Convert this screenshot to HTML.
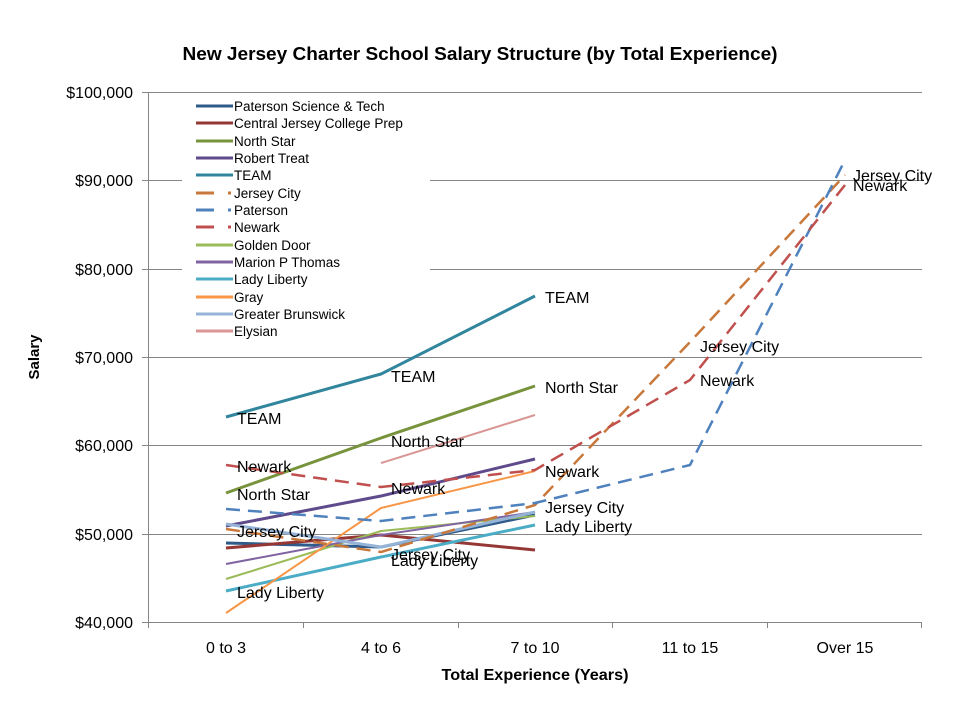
<!DOCTYPE html>
<html><head><meta charset="utf-8"><style>
html,body{margin:0;padding:0;background:#fff}
svg text{font-family:"Liberation Sans",sans-serif}
</style></head><body>
<svg width="960" height="720" viewBox="0 0 960 720" xmlns="http://www.w3.org/2000/svg">
<rect width="960" height="720" fill="#fff"/>
<text x="480" y="60" text-anchor="middle" font-size="18" font-weight="bold" textLength="595" lengthAdjust="spacingAndGlyphs">New Jersey Charter School Salary Structure (by Total Experience)</text>
<g stroke="#868686" stroke-width="1">
<line x1="148" y1="92.5" x2="922" y2="92.5"/>
<line x1="148" y1="180.5" x2="922" y2="180.5"/>
<line x1="148" y1="269.5" x2="922" y2="269.5"/>
<line x1="148" y1="357.5" x2="922" y2="357.5"/>
<line x1="148" y1="445.5" x2="922" y2="445.5"/>
<line x1="148" y1="534.5" x2="922" y2="534.5"/>
<line x1="148" y1="622.5" x2="922" y2="622.5"/>
<line x1="148.5" y1="92" x2="148.5" y2="628"/>
<line x1="303.5" y1="622" x2="303.5" y2="628"/>
<line x1="458.5" y1="622" x2="458.5" y2="628"/>
<line x1="612.5" y1="622" x2="612.5" y2="628"/>
<line x1="767.5" y1="622" x2="767.5" y2="628"/>
<line x1="921.5" y1="622" x2="921.5" y2="628"/>
<line x1="142" y1="92.5" x2="148" y2="92.5"/><line x1="142" y1="180.5" x2="148" y2="180.5"/><line x1="142" y1="269.5" x2="148" y2="269.5"/><line x1="142" y1="357.5" x2="148" y2="357.5"/><line x1="142" y1="445.5" x2="148" y2="445.5"/><line x1="142" y1="534.5" x2="148" y2="534.5"/><line x1="142" y1="622.5" x2="148" y2="622.5"/>
</g>
<g font-size="16" text-anchor="end">
<text x="133" y="98">$100,000</text><text x="133" y="186">$90,000</text><text x="133" y="275">$80,000</text><text x="133" y="363">$70,000</text><text x="133" y="451">$60,000</text><text x="133" y="540">$50,000</text><text x="133" y="628">$40,000</text>
</g>
<g font-size="16" text-anchor="middle">
<text x="226" y="653">0 to 3</text><text x="381" y="653">4 to 6</text><text x="535" y="653">7 to 10</text><text x="690" y="653">11 to 15</text><text x="845" y="653">Over 15</text>
</g>
<text x="535" y="680" text-anchor="middle" font-size="16" font-weight="bold" textLength="187" lengthAdjust="spacingAndGlyphs">Total Experience (Years)</text>
<text transform="translate(39,357) rotate(-90)" text-anchor="middle" font-size="15" font-weight="bold">Salary</text>
<rect x="182" y="95" width="248" height="246" fill="#fff"/>
<g fill="none" stroke-width="3" stroke-linejoin="round">
<polyline stroke="#2E5B8A" points="226,543 381,547 535,515"/>
<polyline stroke="#953735" points="226,548 381,535 535,550"/>
<polyline stroke="#77933C" points="226,493 381,438 535,386"/>
<polyline stroke="#5F4A8B" points="226,526 381,496 535,459"/>
<polyline stroke="#31859C" points="226,417 381,374 535,296"/>
<polyline stroke="#9BBB59" stroke-width="2" points="226,579 381,531 535,516"/>
<polyline stroke="#8064A2" stroke-width="2" points="226,564 381,535 535,512"/>
<polyline stroke="#4BACC6" points="226,591 381,557 535,525"/>
<polyline stroke="#F79646" stroke-width="2" points="226,613 381,508 535,471"/>
<polyline stroke="#95B3D7" points="226,524 381,547 535,512"/>
<polyline stroke="#D99694" stroke-width="2" points="381,463 535,415"/>
<polyline stroke="#C8783A" stroke-width="2.5" stroke-dasharray="14,8" points="226,529 381,552 535,505 690,342 845,175"/>
<polyline stroke="#4F81BD" stroke-width="2.5" stroke-dasharray="14,8" points="226,509 381,521 535,503 690,465 845,160"/>
<polyline stroke="#C0504D" stroke-width="2.5" stroke-dasharray="14,8" points="226,465 381,487 535,470 690,380 845,185"/>
</g>
<g font-size="16">
<text x="237" y="424">TEAM</text><text x="391" y="382">TEAM</text><text x="545" y="303">TEAM</text>
<text x="237" y="472">Newark</text><text x="237" y="500">North Star</text><text x="237" y="537">Jersey City</text><text x="237" y="598">Lady Liberty</text>
<text x="391" y="447">North Star</text><text x="391" y="494">Newark</text><text x="391" y="560">Jersey City</text><text x="391" y="566">Lady Liberty</text>
<text x="545" y="393">North Star</text><text x="545" y="477">Newark</text><text x="545" y="513">Jersey City</text><text x="545" y="532">Lady Liberty</text>
<text x="700" y="352">Jersey City</text><text x="700" y="386">Newark</text>
<text x="853" y="181">Jersey City</text><text x="853" y="191">Newark</text>
</g>
<g font-size="13.5">
<g stroke-width="3">
<line x1="196" y1="106" x2="233" y2="106" stroke="#2E5B8A"/>
<line x1="196" y1="123" x2="233" y2="123" stroke="#953735"/>
<line x1="196" y1="141" x2="233" y2="141" stroke="#77933C"/>
<line x1="196" y1="158" x2="233" y2="158" stroke="#5F4A8B"/>
<line x1="196" y1="175" x2="233" y2="175" stroke="#31859C"/>
<line x1="196" y1="193" x2="214" y2="193" stroke="#C8783A"/><line x1="228" y1="193" x2="231" y2="193" stroke="#C8783A"/>
<line x1="196" y1="210" x2="214" y2="210" stroke="#4F81BD"/><line x1="228" y1="210" x2="231" y2="210" stroke="#4F81BD"/>
<line x1="196" y1="227" x2="214" y2="227" stroke="#C0504D"/><line x1="228" y1="227" x2="231" y2="227" stroke="#C0504D"/>
<line x1="196" y1="245" x2="233" y2="245" stroke="#9BBB59"/>
<line x1="196" y1="262" x2="233" y2="262" stroke="#8064A2"/>
<line x1="196" y1="279" x2="233" y2="279" stroke="#4BACC6"/>
<line x1="196" y1="297" x2="233" y2="297" stroke="#F79646"/>
<line x1="196" y1="314" x2="233" y2="314" stroke="#95B3D7"/>
<line x1="196" y1="331" x2="233" y2="331" stroke="#D99694"/>
</g>
<text x="234" y="111">Paterson Science &amp; Tech</text>
<text x="234" y="128">Central Jersey College Prep</text>
<text x="234" y="146">North Star</text>
<text x="234" y="163">Robert Treat</text>
<text x="234" y="180">TEAM</text>
<text x="234" y="198">Jersey City</text>
<text x="234" y="215">Paterson</text>
<text x="234" y="232">Newark</text>
<text x="234" y="250">Golden Door</text>
<text x="234" y="267">Marion P Thomas</text>
<text x="234" y="284">Lady Liberty</text>
<text x="234" y="302">Gray</text>
<text x="234" y="319">Greater Brunswick</text>
<text x="234" y="336">Elysian</text>
</g>
</svg>
</body></html>
